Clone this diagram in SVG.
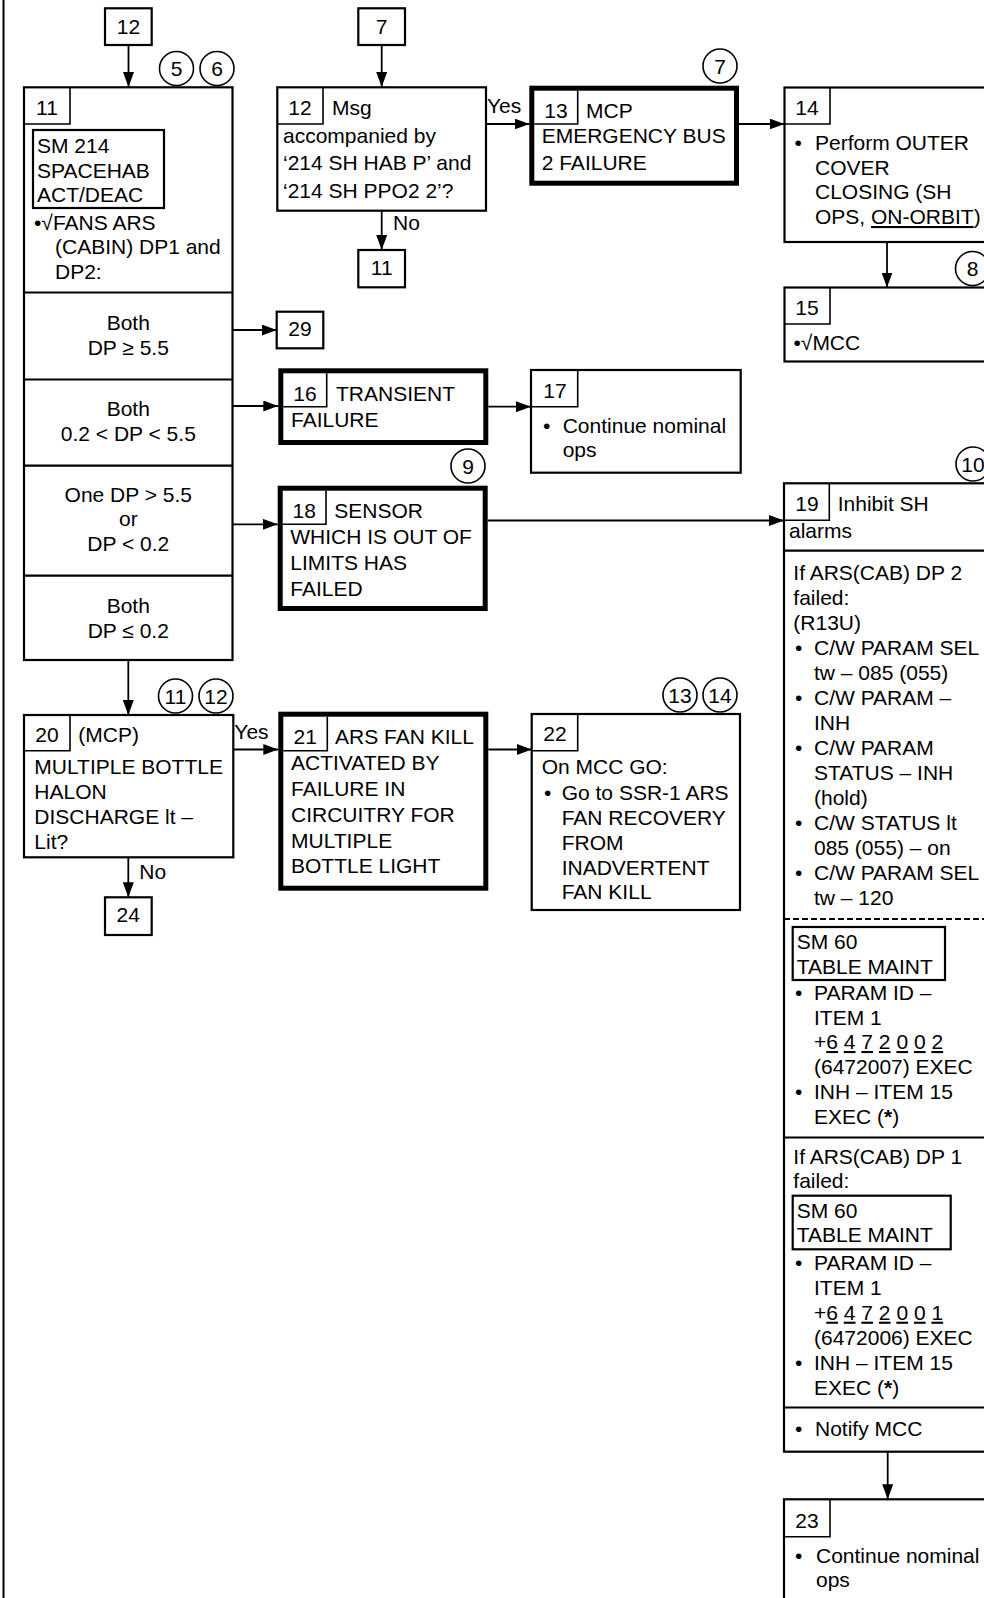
<svg xmlns="http://www.w3.org/2000/svg" width="984" height="1598" viewBox="0 0 984 1598">
<style>
text{font-family:"Liberation Sans",Arial,sans-serif;font-size:21px;fill:#000}
.m{text-anchor:middle}
.b{fill:#fff;stroke:#000;stroke-width:2.2}
.k{fill:#fff;stroke:#000;stroke-width:5}
.t{fill:none;stroke:#000;stroke-width:1.6}
.d{fill:none;stroke:#000;stroke-width:2.2}
.c{fill:#fff;stroke:#000;stroke-width:1.6}
.e{fill:none;stroke:#000;stroke-width:1.8;marker-end:url(#ah)}
.u{text-decoration:underline}
</style>
<defs>
<marker id="ah" markerUnits="userSpaceOnUse" markerWidth="15" markerHeight="11" refX="15" refY="5.5" orient="auto">
<path d="M0,0 L15,5.5 L0,11 Z" fill="#000"/>
</marker>
</defs>
<rect x="0" y="0" width="984" height="1598" fill="#fff"/>
<line x1="3.5" y1="0" x2="3.5" y2="1598" stroke="#000" stroke-width="2"/>

<g id="connectors">
<path class="e" d="M128.5 45 V87"/>
<path class="e" d="M381.7 45 V87"/>
<path class="e" d="M381.7 211 V250"/>
<path class="e" d="M486 124 H529.5"/>
<path class="e" d="M739 124 H784.5"/>
<path class="e" d="M887 242 V287.5"/>
<path class="e" d="M232.5 330 H276.7"/>
<path class="e" d="M232.5 406 H278.3"/>
<path class="e" d="M488.3 406.7 H531"/>
<path class="e" d="M232.5 524.3 H277.7"/>
<path class="e" d="M487.7 520.5 H784"/>
<path class="e" d="M128.3 660 V715"/>
<path class="e" d="M233.3 749.5 H278.3"/>
<path class="e" d="M488.3 749.5 H531.7"/>
<path class="e" d="M128.3 857.3 V897.3"/>
<path class="e" d="M887.7 1451.7 V1499.3"/>
<text x="487" y="113">Yes</text>
<text x="393" y="230">No</text>
<text x="234.3" y="739">Yes</text>
<text x="139.3" y="879">No</text>
</g>

<g id="ref12top"><rect class="b" x="105" y="8.3" width="46.7" height="36.7"/><text class="m" x="128.4" y="33.5">12</text></g>
<g id="ref7top"><rect class="b" x="358.3" y="8.3" width="46.7" height="36.7"/><text class="m" x="381.7" y="33.5">7</text></g>
<g id="ref11"><rect class="b" x="358.3" y="250" width="46.7" height="37.3"/><text class="m" x="381.7" y="275">11</text></g>
<g id="ref29"><rect class="b" x="276.7" y="311.7" width="46.6" height="36.6"/><text class="m" x="300" y="336">29</text></g>
<g id="ref24"><rect class="b" x="105" y="897.3" width="46.7" height="37.7"/><text class="m" x="128.3" y="921.7">24</text></g>

<g id="circles">
<circle class="c" cx="176.5" cy="68.5" r="17"/><text class="m" x="176.5" y="76">5</text>
<circle class="c" cx="217" cy="68.5" r="17"/><text class="m" x="217" y="76">6</text>
<circle class="c" cx="720" cy="66" r="17"/><text class="m" x="720" y="73.5">7</text>
<circle class="c" cx="972.5" cy="268.5" r="17"/><text class="m" x="972.5" y="276">8</text>
<circle class="c" cx="468" cy="466" r="17"/><text class="m" x="468" y="473.5">9</text>
<circle class="c" cx="973" cy="464" r="17"/><text class="m" x="973" y="471.5">10</text>
<circle class="c" cx="175.5" cy="696" r="17"/><text class="m" x="175.5" y="703.5">11</text>
<circle class="c" cx="216" cy="696" r="17"/><text class="m" x="216" y="703.5">12</text>
<circle class="c" cx="680" cy="695" r="17"/><text class="m" x="680" y="702.5">13</text>
<circle class="c" cx="720" cy="695" r="17"/><text class="m" x="720" y="702.5">14</text>
</g>

<g id="node11">
<rect class="b" x="24" y="87.3" width="208.5" height="572.7"/>
<path class="t" d="M24 124 H70 V87.3"/>
<text class="m" x="47" y="115">11</text>
<rect class="d" x="33" y="130" width="131" height="78"/>
<text x="37" y="153">SM 214</text>
<text x="37" y="177.5">SPACEHAB</text>
<text x="37" y="202">ACT/DEAC</text>
<text x="34" y="229.5">•√FANS ARS</text>
<text x="55" y="254">(CABIN) DP1 and</text>
<text x="55" y="278.5">DP2:</text>
<path class="d" d="M24 292.5 H232.5 M24 379.5 H232.5 M24 465.7 H232.5 M24 575.7 H232.5"/>
<text class="m" x="128.3" y="329.5">Both</text>
<text class="m" x="128.3" y="355">DP ≥ 5.5</text>
<text class="m" x="128.3" y="416.3">Both</text>
<text class="m" x="128.3" y="440.8">0.2 &lt; DP &lt; 5.5</text>
<text class="m" x="128.3" y="501.6">One DP &gt; 5.5</text>
<text class="m" x="128.3" y="526.4">or</text>
<text class="m" x="128.3" y="550.6">DP &lt; 0.2</text>
<text class="m" x="128.3" y="612.6">Both</text>
<text class="m" x="128.3" y="638.2">DP ≤ 0.2</text>
</g>

<g id="node12">
<rect class="b" x="277.3" y="87.3" width="208.7" height="123.4"/>
<path class="t" d="M277.3 124 H323 V87.3"/>
<text class="m" x="300" y="115">12</text>
<text x="332" y="115">Msg</text>
<text x="283" y="142.5">accompanied by</text>
<text x="283" y="170.3">‘214 SH HAB P’ and</text>
<text x="283" y="197.7">‘214 SH PPO2 2’?</text>
</g>

<g id="node13">
<rect class="k" x="531.8" y="88.2" width="204.7" height="95"/>
<path class="t" d="M534.3 124 H577.7 V90.7"/>
<text class="m" x="556" y="118">13</text>
<text x="586" y="118">MCP</text>
<text x="541.7" y="143.3">EMERGENCY BUS</text>
<text x="541.7" y="169.5">2 FAILURE</text>
</g>

<g id="node14">
<rect class="b" x="784.5" y="87.5" width="260" height="154.5"/>
<path class="t" d="M784.5 124 H830 V87.5"/>
<text class="m" x="807" y="115">14</text>
<text x="794.5" y="150">•</text>
<text x="815" y="150">Perform OUTER</text>
<text x="815" y="174.7">COVER</text>
<text x="815" y="199.3">CLOSING (SH</text>
<text x="815" y="224">OPS, <tspan class="u" text-decoration="underline">ON-ORBIT</tspan>)</text>
</g>

<g id="node15">
<rect class="b" x="784.5" y="287.5" width="260" height="74"/>
<path class="t" d="M784.5 324 H830 V287.5"/>
<text class="m" x="807" y="315">15</text>
<text x="793.5" y="350.3">•√MCC</text>
</g>

<g id="node16">
<rect class="k" x="280.8" y="370.8" width="205" height="71.7"/>
<path class="t" d="M283.3 406.7 H326.7 V373.3"/>
<text class="m" x="305" y="400.7">16</text>
<text x="336" y="400.7">TRANSIENT</text>
<text x="291" y="426.5">FAILURE</text>
</g>

<g id="node17">
<rect class="b" x="531" y="370" width="209.7" height="102.7"/>
<path class="t" d="M531 406.7 H577.7 V370"/>
<text class="m" x="555" y="398">17</text>
<text x="543" y="432.7">•</text>
<text x="562.7" y="432.7">Continue nominal</text>
<text x="562.7" y="457">ops</text>
</g>

<g id="node18">
<rect class="k" x="280.2" y="488.2" width="205" height="120.3"/>
<path class="t" d="M282.7 524.3 H326 V490.7"/>
<text class="m" x="304.3" y="518.3">18</text>
<text x="334.3" y="518.3">SENSOR</text>
<text x="290.3" y="544">WHICH IS OUT OF</text>
<text x="290.3" y="570">LIMITS HAS</text>
<text x="290.3" y="595.5">FAILED</text>
</g>

<g id="node19">
<rect class="b" x="784" y="483.3" width="260" height="968.4"/>
<path class="t" d="M784 520.3 H829.3 V483.3"/>
<text class="m" x="807" y="511">19</text>
<text x="837.7" y="511">Inhibit SH</text>
<text x="789" y="538.3">alarms</text>
<path class="d" d="M784 550.7 H1000"/>
<text x="793.3" y="580">If ARS(CAB) DP 2</text>
<text x="793.3" y="605">failed:</text>
<text x="793.3" y="630">(R13U)</text>
<text x="795" y="655">•</text><text x="814" y="655">C/W PARAM SEL</text>
<text x="814" y="680">tw – 085 (055)</text>
<text x="795" y="705">•</text><text x="814" y="705">C/W PARAM –</text>
<text x="814" y="730">INH</text>
<text x="795" y="755">•</text><text x="814" y="755">C/W PARAM</text>
<text x="814" y="780">STATUS – INH</text>
<text x="814" y="805">(hold)</text>
<text x="795" y="830">•</text><text x="814" y="830">C/W STATUS lt</text>
<text x="814" y="855">085 (055) – on</text>
<text x="795" y="880">•</text><text x="814" y="880">C/W PARAM SEL</text>
<text x="814" y="905">tw – 120</text>
<path fill="none" stroke="#000" stroke-width="2.2" stroke-dasharray="6 3" d="M784 919 H1000"/>
<rect class="d" x="792.7" y="927" width="152.3" height="53"/>
<text x="796.7" y="949.3">SM 60</text>
<text x="796.7" y="973.5">TABLE MAINT</text>
<text x="795" y="1000.3">•</text><text x="814" y="1000.3">PARAM ID –</text>
<text x="814" y="1024.7">ITEM 1</text>
<text x="814" y="1049">+<tspan text-decoration="underline">6</tspan> <tspan text-decoration="underline">4</tspan> <tspan text-decoration="underline">7</tspan> <tspan text-decoration="underline">2</tspan> <tspan text-decoration="underline">0</tspan> <tspan text-decoration="underline">0</tspan> <tspan text-decoration="underline">2</tspan></text>
<text x="814" y="1073.7">(6472007) EXEC</text>
<text x="795" y="1098.8">•</text><text x="814" y="1098.8">INH – ITEM 15</text>
<text x="814" y="1124.2">EXEC (<tspan font-weight="bold">*</tspan>)</text>
<path class="d" d="M784 1137.5 H1000"/>
<text x="793.3" y="1164">If ARS(CAB) DP 1</text>
<text x="793.3" y="1188.2">failed:</text>
<rect class="d" x="792.7" y="1195.7" width="158" height="53.6"/>
<text x="796.7" y="1217.9">SM 60</text>
<text x="796.7" y="1242.2">TABLE MAINT</text>
<text x="795" y="1269.6">•</text><text x="814" y="1269.6">PARAM ID –</text>
<text x="814" y="1294.5">ITEM 1</text>
<text x="814" y="1319.7">+<tspan text-decoration="underline">6</tspan> <tspan text-decoration="underline">4</tspan> <tspan text-decoration="underline">7</tspan> <tspan text-decoration="underline">2</tspan> <tspan text-decoration="underline">0</tspan> <tspan text-decoration="underline">0</tspan> <tspan text-decoration="underline">1</tspan></text>
<text x="814" y="1344.5">(6472006) EXEC</text>
<text x="795" y="1369.7">•</text><text x="814" y="1369.7">INH – ITEM 15</text>
<text x="814" y="1394.5">EXEC (<tspan font-weight="bold">*</tspan>)</text>
<path class="d" d="M784 1407.5 H1000"/>
<text x="795" y="1435.7">•</text><text x="815" y="1435.7">Notify MCC</text>
</g>

<g id="node20">
<rect class="b" x="24" y="715" width="209.3" height="142.3"/>
<path class="t" d="M24 750.7 H70 V715"/>
<text class="m" x="47" y="741.7">20</text>
<text x="78.3" y="741.7">(MCP)</text>
<text x="34.3" y="774.4">MULTIPLE BOTTLE</text>
<text x="34.3" y="799.2">HALON</text>
<text x="34.3" y="823.8">DISCHARGE lt –</text>
<text x="34.3" y="848.6">Lit?</text>
</g>

<g id="node21">
<rect class="k" x="280.8" y="714.2" width="205" height="174"/>
<path class="t" d="M283.3 750.7 H327.3 V716.7"/>
<text class="m" x="305.3" y="744.3">21</text>
<text x="335" y="744.3">ARS FAN KILL</text>
<text x="291" y="769.8">ACTIVATED BY</text>
<text x="291" y="796.3">FAILURE IN</text>
<text x="291" y="822.4">CIRCUITRY FOR</text>
<text x="291" y="848.2">MULTIPLE</text>
<text x="291" y="873.4">BOTTLE LIGHT</text>
</g>

<g id="node22">
<rect class="b" x="531.7" y="714" width="208.3" height="196"/>
<path class="t" d="M531.7 750.7 H577.7 V714"/>
<text class="m" x="555" y="741">22</text>
<text x="541.7" y="774.3">On MCC GO:</text>
<text x="544" y="799.5">•</text>
<text x="561.7" y="799.5">Go to SSR-1 ARS</text>
<text x="561.7" y="824.7">FAN RECOVERY</text>
<text x="561.7" y="849.5">FROM</text>
<text x="561.7" y="874.6">INADVERTENT</text>
<text x="561.7" y="899.4">FAN KILL</text>
</g>

<g id="node23">
<rect class="b" x="784" y="1499.3" width="260" height="200"/>
<path class="t" d="M784 1536.7 H830 V1499.3"/>
<text class="m" x="807" y="1528">23</text>
<text x="795" y="1563.2">•</text>
<text x="816" y="1563.2">Continue nominal</text>
<text x="816" y="1587">ops</text>
</g>
</svg>
